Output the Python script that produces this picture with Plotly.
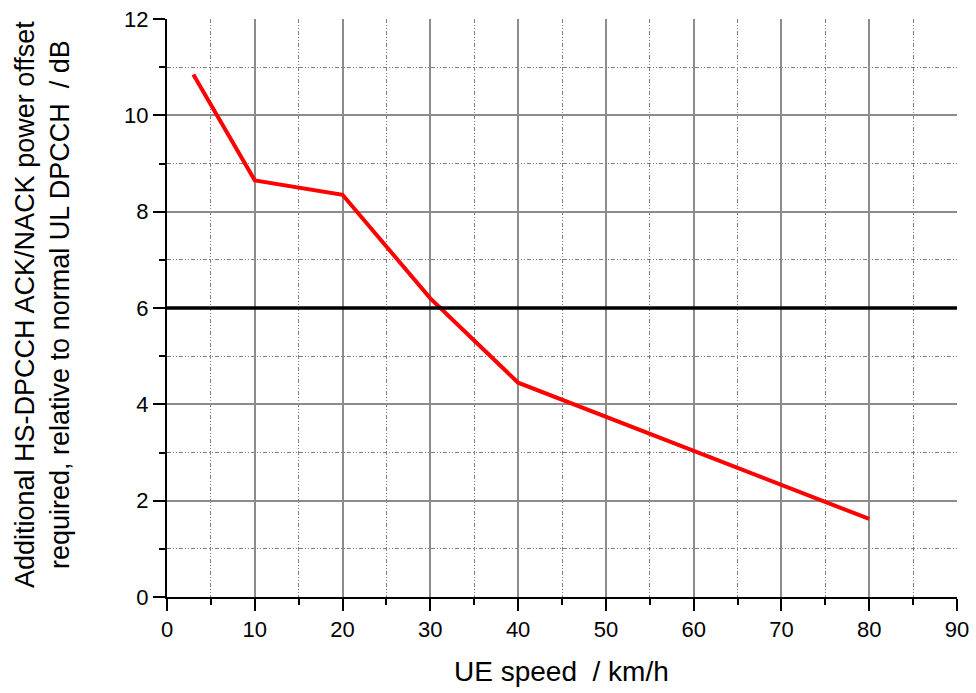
import plotly.graph_objects as go

# Data
ue_speed_kmh = [3, 10, 20, 30, 40, 80]
power_offset_db = [10.85, 8.65, 8.35, 6.2, 4.45, 1.62]
threshold_x = [0, 90]
threshold_db = [6, 6]

x_ticks = [0, 10, 20, 30, 40, 50, 60, 70, 80, 90]
y_ticks = [0, 2, 4, 6, 8, 10, 12]
x_grid = [10, 20, 30, 40, 50, 60, 70, 80]
y_grid = [2, 4, 6, 8, 10]

x_title = "UE speed  / km/h"
y_title = "Additional HS-DPCCH ACK/NACK power offset<br>required, relative to normal UL DPCCH  / dB"

FONT = "Liberation Sans, Arial, sans-serif"
grid_major = "#8c8c8c"
grid_minor = "#808080"
minor_dash = "4px,2px,1px,2px,1px,2px"

fig = go.Figure()
fig.add_trace(go.Scatter(x=threshold_x, y=threshold_db, mode="lines",
                         xaxis="x2", yaxis="y2",
                         line=dict(color="black", width=3.5), showlegend=False,
                         hoverinfo="skip"))
fig.add_trace(go.Scatter(x=ue_speed_kmh, y=power_offset_db, mode="lines",
                         line=dict(color="#ff0000", width=4), showlegend=False))

tick_font = dict(family=FONT, size=22, color="black")

L, R, T, B = 167, 19, 19, 96
W, H = 976, 693
pw, ph = W - L - R, H - T - B

fig.update_layout(
    width=W, height=H,
    margin=dict(l=L, r=R, t=T, b=B),
    plot_bgcolor="white", paper_bgcolor="white",
    xaxis=dict(range=[0, 90], tickvals=x_ticks, automargin=False,
               showline=True, linecolor="black", linewidth=2,
               ticks="outside", ticklen=12, tickwidth=1.5, tickcolor="black",
               showgrid=False, zeroline=False,
               minor=dict(dtick=5, tick0=0, ticks="outside", ticklen=6,
                          tickwidth=1.5, tickcolor="black",
                          showgrid=True, gridcolor=grid_minor, gridwidth=1.3,
                          griddash=minor_dash),
               tickfont=tick_font),
    yaxis=dict(range=[0, 12], tickvals=y_ticks, automargin=False,
               showline=True, linecolor="black", linewidth=2,
               ticks="outside", ticklen=12, tickwidth=1.5, tickcolor="black",
               showgrid=False, zeroline=False,
               minor=dict(dtick=1, tick0=0, ticks="outside", ticklen=6,
                          tickwidth=1.5, tickcolor="black",
                          showgrid=True, gridcolor=grid_minor, gridwidth=1.3,
                          griddash=minor_dash),
               tickfont=tick_font),
    xaxis2=dict(range=[0, 90], tickvals=x_grid, overlaying="x", anchor="y2",
                automargin=False, showticklabels=False, ticks="",
                showline=False, zeroline=False,
                showgrid=True, gridcolor=grid_major, gridwidth=1.8),
    yaxis2=dict(range=[0, 12], tickvals=y_grid, overlaying="y", anchor="x2",
                automargin=False, showticklabels=False, ticks="",
                showline=False, zeroline=False,
                showgrid=True, gridcolor=grid_major, gridwidth=1.8),
)

fig.add_annotation(text=x_title, xref="paper", yref="paper",
                   x=(561 - L) / pw, y=(H - B - 672) / ph,
                   xanchor="center", yanchor="middle", showarrow=False,
                   font=dict(family=FONT, size=28, color="black"))
fig.add_annotation(text=y_title, xref="paper", yref="paper",
                   x=(42 - L) / pw, y=(H - B - 305) / ph,
                   xanchor="center", yanchor="middle", showarrow=False,
                   textangle=-90,
                   font=dict(family=FONT, size=27, color="black"))

fig.write_html("out.html")
